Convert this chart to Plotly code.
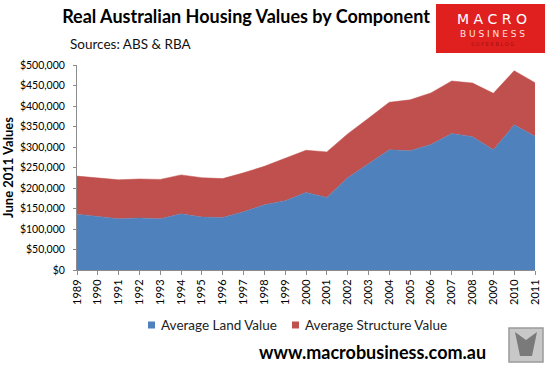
import plotly.graph_objects as go

years = list(range(1989, 2012))
land_value = [136000, 130000, 125000, 127000, 125000, 137000, 129000, 128000, 142000, 159000,
              169000, 189000, 177000, 225000, 260000, 293000, 291000, 306000, 333000, 325000,
              293000, 354000, 326000]
total_value = [229000, 225000, 220000, 222000, 221000, 232000, 225000, 223000, 237000, 253000,
               272000, 292000, 288000, 332000, 370000, 409000, 415000, 432000, 461000, 456000,
               431000, 486000, 457000]
structure_value = [t - l for t, l in zip(total_value, land_value)]
y_ticks = list(range(0, 500001, 50000))
series_names = ["Average Land Value", "Average Structure Value"]
series_colors = ["#4F81BD", "#C0504D"]

FONT = "Lato, Carlito, Liberation Sans, sans-serif"
W, H = 551, 370
L, R, T, B = 77, 16, 65, 100

def px(xp):
    return (xp - L) / (W - L - R)

def py(yp):
    return (H - B - yp) / (H - T - B)

fig = go.Figure()
for vals, name, col in zip([land_value, structure_value], series_names, series_colors):
    fig.add_trace(go.Scatter(x=years, y=vals, name=name, stackgroup="one",
                             mode="lines", line=dict(width=0.5, color=col),
                             fillcolor=col, showlegend=False))

fig.update_layout(
    width=W, height=H,
    margin=dict(l=L, r=R, t=T, b=B, autoexpand=False),
    paper_bgcolor="white", plot_bgcolor="white",
    font=dict(family=FONT, size=11, color="#000000"),
    showlegend=False,
    title=dict(text="<b>Real Australian Housing Values by Component</b>",
               x=246 / W, xanchor="center", y=1 - 17 / H, yanchor="middle",
               font=dict(size=18, color="#000")),
)
fig.update_xaxes(range=[1989, 2011], tickmode="array", tickvals=years,
                 ticktext=[str(y) for y in years], tickangle=-90, automargin=False,
                 showline=True, linecolor="#8C8C8C", linewidth=1,
                 ticks="outside", ticklen=4, tickcolor="#8C8C8C",
                 showgrid=False, zeroline=False, tickfont=dict(size=11))
fig.update_yaxes(range=[0, 500000], tickmode="array", tickvals=y_ticks,
                 ticktext=["${:,}".format(v) for v in y_ticks], automargin=False,
                 showline=True, linecolor="#8C8C8C", linewidth=1,
                 ticks="outside", ticklen=3, tickcolor="#8C8C8C", ticklabelstandoff=6,
                 showgrid=False, zeroline=False, tickfont=dict(size=10.5),
                 title=dict(text="<b>June 2011 Values</b>", font=dict(size=13), standoff=3))

fig.add_annotation(text="Sources: ABS & RBA", xref="paper", yref="paper",
                   x=px(68), y=py(44), xanchor="left", yanchor="middle",
                   showarrow=False, font=dict(size=13.5, color="#111"))
fig.add_annotation(text="<b>www.macrobusiness.com.au</b>", xref="paper", yref="paper",
                   x=px(372), y=py(352), xanchor="center", yanchor="middle",
                   showarrow=False, font=dict(size=18, color="#000"))

# manual legend
for (sx, tx), name, col in zip([(148, 159), (292, 303)], series_names, series_colors):
    fig.add_shape(type="rect", xref="paper", yref="paper", x0=px(sx), x1=px(sx + 7),
                  y0=py(328.5), y1=py(321.5), fillcolor=col, line=dict(width=0))
    fig.add_annotation(text=name, xref="paper", yref="paper", x=px(tx), y=py(325),
                       xanchor="left", yanchor="middle", showarrow=False,
                       font=dict(size=13.5, color="#222"))

# logo box
fig.add_shape(type="rect", xref="paper", yref="paper", x0=px(436), x1=px(545), y0=py(53), y1=py(4),
              fillcolor="#E0201F", line=dict(width=0), layer="above")
for txt, yy, sz, col in [("M A C R O", 19, 14, "#FFFFFF"),
                         ("B U S I N E S S", 34, 9, "#FFE0E0"),
                         ("S U P E R B L O G", 44, 5, "#A01010")]:
    fig.add_annotation(text=txt, xref="paper", yref="paper", x=px(492), y=py(yy),
                       xanchor="center", yanchor="middle", showarrow=False,
                       font=dict(size=sz, color=col, family="DejaVu Sans"))
# wolf thumbnail placeholder
fig.add_shape(type="rect", xref="paper", yref="paper", x0=px(509), x1=px(543), y0=py(362), y1=py(328),
              fillcolor="#C8C8C8", line=dict(width=1.5, color="#9A9A9A"), layer="above")
fig.add_shape(type="path", xref="paper", yref="paper",
              path="M {} {} L {} {} L {} {} L {} {} L {} {} Z".format(
                  px(515), py(332), px(526), py(340), px(537), py(332), px(532), py(356), px(520), py(356)),
              fillcolor="#7A7A7A", line=dict(width=0), layer="above")

fig.write_html("out.html", config={"displayModeBar": False},
               post_script="document.body.style.margin='0';document.body.style.overflow='hidden';")
